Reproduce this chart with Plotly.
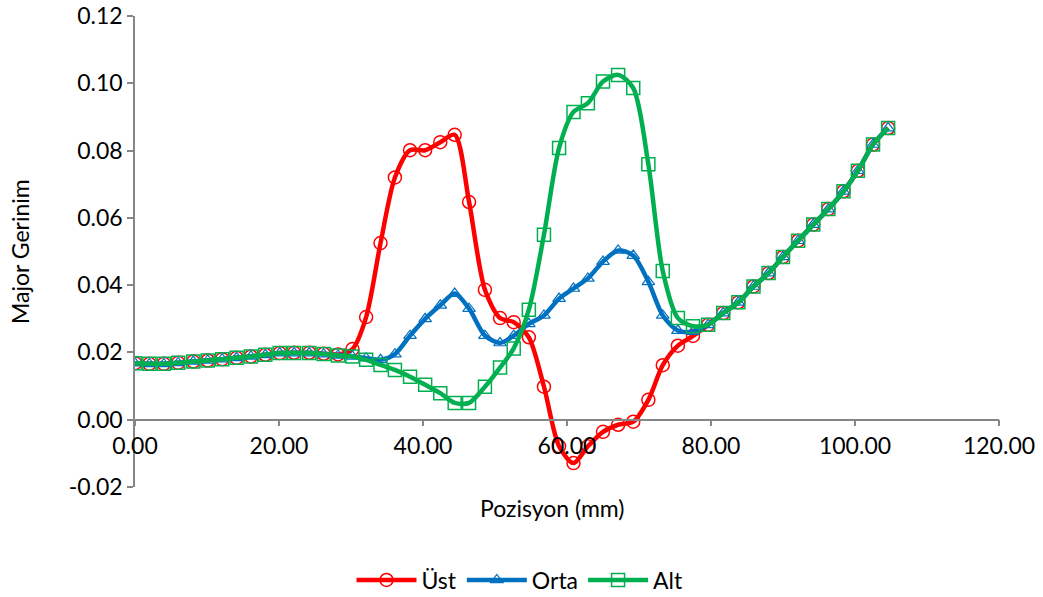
import plotly.graph_objects as go

# Position (mm)
x_mm = [0.0, 2.0, 4.0, 6.0, 8.1, 10.1, 12.1, 14.1, 16.1, 18.1, 20.1, 22.1, 24.2, 26.2, 28.2, 30.2,
        32.1, 34.1, 36.1, 38.2, 40.3, 42.4, 44.4, 46.4, 48.6,
        50.7, 52.6, 54.7, 56.8, 58.9, 60.9, 62.9, 65.0, 67.1, 69.2, 71.3, 73.3, 75.4, 77.5, 79.6,
        81.7, 83.8, 85.9, 88.0, 90.0, 92.1, 94.2, 96.3, 98.4, 100.4, 102.5, 104.6]

ust = [0.0168, 0.0166, 0.0166, 0.0169, 0.0173, 0.0176, 0.0180, 0.0184, 0.0188, 0.0193, 0.0198, 0.0199, 0.0199, 0.0196, 0.0194, 0.0210,
       0.0305, 0.0525, 0.0720, 0.0801, 0.0801, 0.0825, 0.0847, 0.0647, 0.0386,
       0.0302, 0.0290, 0.0245, 0.0098, -0.0079, -0.0129, -0.0079, -0.0036, -0.0015, -0.0006, 0.0059, 0.0162, 0.0220, 0.0249, 0.0282,
       0.0317, 0.0349, 0.0396, 0.0436, 0.0484, 0.0532, 0.0580, 0.0626, 0.0679, 0.0740, 0.0818, 0.0867]

orta = [0.0168, 0.0166, 0.0166, 0.0169, 0.0173, 0.0176, 0.0180, 0.0184, 0.0188, 0.0193, 0.0198, 0.0198, 0.0198, 0.0195, 0.0191, 0.0188,
        0.0183, 0.0178, 0.0195, 0.0250, 0.0300, 0.0340, 0.0375, 0.0330, 0.0250,
        0.0228, 0.0250, 0.0285, 0.0310, 0.0360, 0.0390, 0.0420, 0.0470, 0.0503, 0.0488, 0.0410, 0.0310, 0.0265, 0.0262, 0.0282,
        0.0317, 0.0349, 0.0396, 0.0436, 0.0484, 0.0532, 0.0580, 0.0626, 0.0679, 0.0740, 0.0818, 0.0867]

alt = [0.0168, 0.0166, 0.0166, 0.0169, 0.0173, 0.0176, 0.0180, 0.0184, 0.0188, 0.0193, 0.0198, 0.0198, 0.0198, 0.0195, 0.0191, 0.0188,
       0.0178, 0.0163, 0.0148, 0.0128, 0.0104, 0.0079, 0.0050, 0.0050, 0.0098,
       0.0155, 0.0212, 0.0327, 0.0550, 0.0808, 0.0915, 0.0941, 0.1005, 0.1025, 0.0986, 0.0759, 0.0442, 0.0302, 0.0278, 0.0282,
       0.0317, 0.0349, 0.0396, 0.0436, 0.0484, 0.0532, 0.0580, 0.0626, 0.0679, 0.0740, 0.0818, 0.0867]

series_names = ["Üst", "Orta", "Alt"]
series_colors = ["#FF0000", "#0070C0", "#00B050"]
series_symbols = ["circle-open", "triangle-up-open", "square-open"]

x_ticks = [0, 20, 40, 60, 80, 100, 120]
x_ticktext = ["0.00", "20.00", "40.00", "60.00", "80.00", "100.00", "120.00"]
y_ticks = [-0.02, 0.0, 0.02, 0.04, 0.06, 0.08, 0.10, 0.12]
y_ticktext = ["-0.02", "0.00", "0.02", "0.04", "0.06", "0.08", "0.10", "0.12"]

FONT = "Lato"
FS = 23
AXIS_COLOR = "#868686"

fig = go.Figure()
for name, ys, col, sym in zip(series_names, [ust, orta, alt], series_colors, series_symbols):
    fig.add_trace(go.Scatter(
        x=x_mm, y=ys, name=name, mode="lines+markers",
        line=dict(color=col, width=4.5, shape="spline", smoothing=0.8),
        marker=dict(symbol=sym, size=13 if sym != "triangle-up-open" else 11,
                    color=col, line=dict(color=col, width=1.5 if sym != "triangle-up-open" else 1.2)),
    ))

W, H = 1043, 597
L, R, T, B = 135, 44, 16, 110
pw = W - L - R
ph = H - T - B

fig.update_layout(
    width=W, height=H,
    margin=dict(l=L, r=R, t=T, b=B, autoexpand=False),
    paper_bgcolor="white", plot_bgcolor="white",
    font=dict(family=FONT, size=FS, color="#000000"),
    showlegend=True,
    legend=dict(orientation="h", xref="container", yref="container",
                x=520 / W, xanchor="center",
                y=(H - 580) / H, yanchor="middle",
                font=dict(family=FONT, size=FS, color="#000000"),
                itemwidth=60, bgcolor="rgba(0,0,0,0)"),
    xaxis=dict(range=[0, 120], tickvals=x_ticks, ticktext=x_ticktext, automargin=False,
               showgrid=False, zeroline=False, showline=True, linecolor=AXIS_COLOR, linewidth=1.5,
               ticks="outside", ticklen=6, tickcolor=AXIS_COLOR, tickwidth=1.5,
               anchor="free", position=(0 - (-0.02)) / 0.14,
               tickfont=dict(family=FONT, size=FS, color="#000000")),
    yaxis=dict(range=[-0.02, 0.12], tickvals=y_ticks, ticktext=y_ticktext, automargin=False,
               showgrid=False, zeroline=False, showline=True, linecolor=AXIS_COLOR, linewidth=1.5,
               ticks="outside", ticklen=6, tickcolor=AXIS_COLOR, tickwidth=1.5,
               tickfont=dict(family=FONT, size=FS, color="#000000")),
    annotations=[
        dict(text="Pozisyon (mm)", xref="paper", yref="paper",
             x=(552 - L) / pw, y=-(508 - (T + ph)) / ph, xanchor="center", yanchor="middle",
             showarrow=False, font=dict(family=FONT, size=FS, color="#000000")),
        dict(text="Major Gerinim", xref="paper", yref="paper",
             x=(20 - L) / pw, y=(T + ph - 252) / ph, xanchor="center", yanchor="middle",
             textangle=-90, showarrow=False, font=dict(family=FONT, size=FS, color="#000000")),
    ],
)

fig.write_html("out.html", config={"displayModeBar": False},
               post_script="document.body.style.margin='0';")
